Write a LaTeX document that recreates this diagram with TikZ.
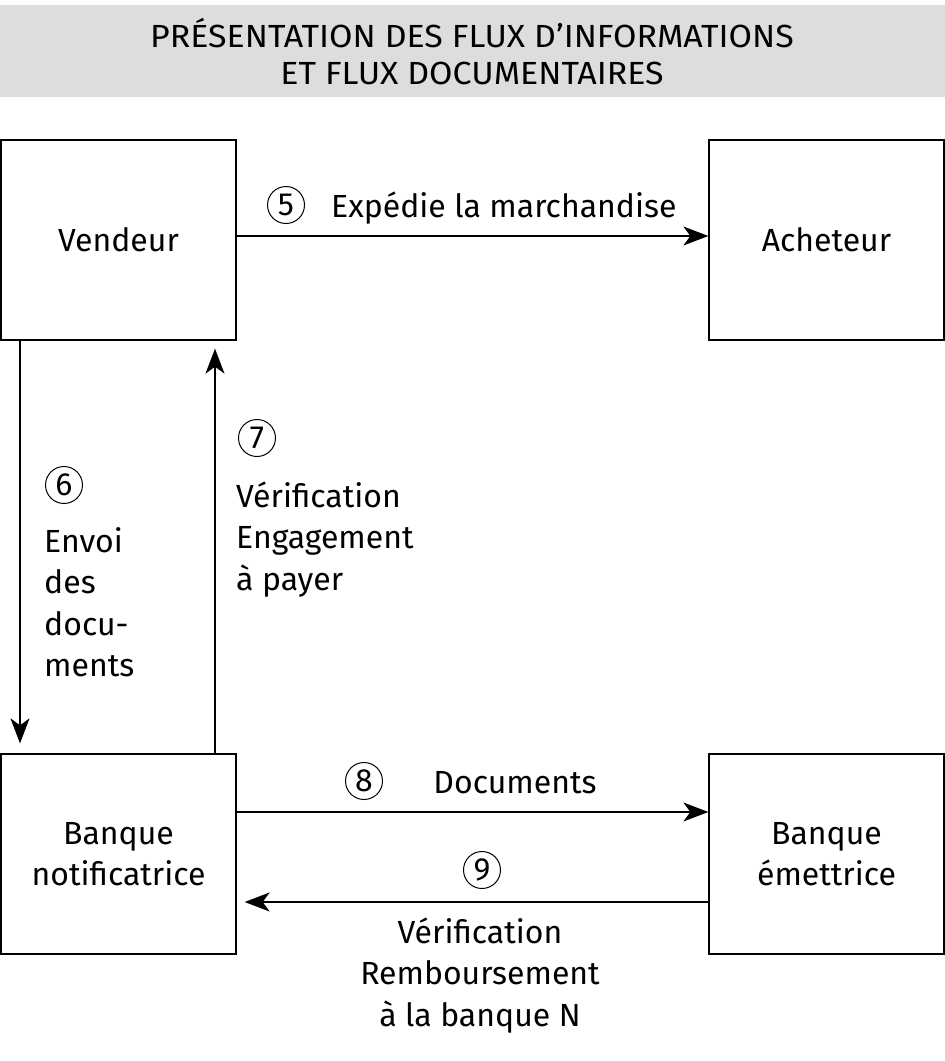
\documentclass[tikz,border=0pt]{standalone}
\usepackage{fontspec}
\setmainfont{Fira Sans}
\usetikzlibrary{arrows.meta}
\definecolor{bandgray}{HTML}{DCDDDE}
\tikzset{
  box/.style={draw=black, line width=1.3pt, minimum width=235pt, minimum height=200pt, inner sep=0pt, align=center, font=\fontsize{32}{41}\selectfont},
  arr/.style={line width=1.3pt, -{Stealth[length=25pt,width=19pt,inset=7pt]}},
  num/.style={draw=black, circle, line width=1pt, minimum size=37pt, inner sep=0pt, font=\fontsize{32}{32}\selectfont},
  lbl/.style={inner sep=0pt, font=\fontsize{32}{41.5}\selectfont},
}
\begin{document}
\begin{tikzpicture}[x=1pt,y=-1pt]
\useasboundingbox (0,0) rectangle (945,1061);
\fill[bandgray] (0,5) rectangle (945,97);
\node[inner sep=0pt, align=center, font=\fontsize{32}{37}\selectfont] (title) at (472,52)
  {\scalebox{1.06}[1]{PRÉSENTATION DES FLUX D’INFORMATIONS}\\\scalebox{1.06}[1]{ET FLUX DOCUMENTAIRES}};
\node[box] (vendeur) at (118.5,240) {Vendeur};
\node[box] (acheteur) at (826.5,240) {Acheteur};
\node[box] (notif) at (118.5,854) {\raisebox{-3pt}{\parbox{230pt}{\centering Banque\\notificatrice}}};
\node[box] (emet) at (826.5,854) {\raisebox{-3pt}{\parbox{230pt}{\centering Banque\\émettrice}}};
% 5
\draw[arr] (vendeur.east |- 0,236) -- (acheteur.west |- 0,236);
\node[num] (n5) at (286,205) {5};
\node[lbl, anchor=base west] (l5) at (331,217) {Expédie la marchandise};
% 6
\draw[arr, shorten >=10pt] (20,0 |- vendeur.south) -- (20,0 |- notif.north);
\node[num] (n6) at (64,485) {6};
\node[lbl, anchor=base west, align=left] (l6) at (44,676.5) {Envoi\\des\\docu-\\ments};
% 7
\draw[arr, shorten >=8pt] (215,0 |- notif.north) -- (215,0 |- vendeur.south);
\node[num] (n7) at (257,438) {7};
\node[lbl, anchor=base west, align=left] (l7) at (236,590) {Vérification\\Engagement\\à payer};
% 8
\draw[arr] (notif.east |- 0,812) -- (emet.west |- 0,812);
\node[num] (n8) at (364,781) {8};
\node[lbl, anchor=base] (l8) at (515,793) {Documents};
% 9
\draw[arr, shorten >=8pt] (emet.west |- 0,902) -- (notif.east |- 0,902);
\node[num] (n9) at (482,870) {9};
\node[lbl, anchor=base, align=center] (l9) at (480,1026) {Vérification\\Remboursement\\à la banque N};
\end{tikzpicture}
\end{document}
